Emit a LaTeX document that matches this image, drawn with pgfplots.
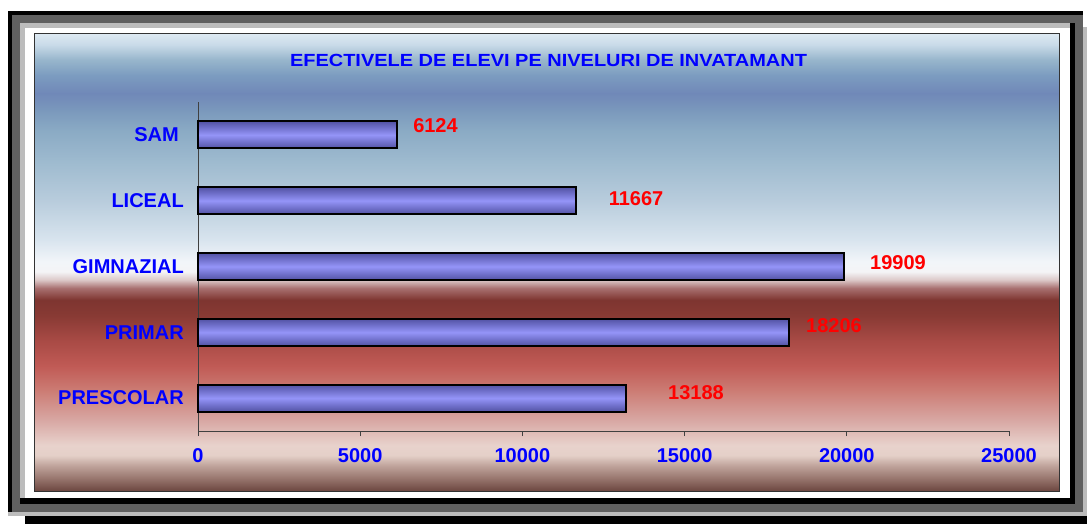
\documentclass[border=0pt]{standalone}
\usepackage{fontspec}
\setmainfont{Liberation Sans}
\usepackage{graphicx}
\usepackage{pgfplots}
\pgfplotsset{compat=1.18}

\definecolor{frLight}{HTML}{BCBCBC}
\definecolor{frGray}{HTML}{606060}
\definecolor{barEdge}{HTML}{5252A4}
\definecolor{barMid}{HTML}{9494F8}
\definecolor{labBlue}{HTML}{0000FF}
\definecolor{labRed}{HTML}{FF0000}

\definecolor{s75}{HTML}{DDE9F2}
\definecolor{s738}{HTML}{C8DAE8}
\definecolor{s722}{HTML}{98B6CC}
\definecolor{s705}{HTML}{7C9CC0}
\definecolor{s685}{HTML}{7088B8}
\definecolor{s667}{HTML}{7A98BC}
\definecolor{s645}{HTML}{8AAAC4}
\definecolor{s607}{HTML}{A0BCD0}
\definecolor{s568}{HTML}{B8CCDC}
\definecolor{s525}{HTML}{D8E4EE}
\definecolor{s501}{HTML}{F2F5F9}
\definecolor{s490}{HTML}{F4F4F6}
\definecolor{s481}{HTML}{DCC8C8}
\definecolor{s472}{HTML}{A87070}
\definecolor{s459}{HTML}{7E3530}
\definecolor{s442}{HTML}{883A34}
\definecolor{s415}{HTML}{A84A45}
\definecolor{s387}{HTML}{C05A55}
\definecolor{s360}{HTML}{CC7C74}
\definecolor{s327}{HTML}{D8A8A4}
\definecolor{s300}{HTML}{E8D2CC}
\definecolor{s289}{HTML}{E4D0C8}
\definecolor{s278}{HTML}{C0A49C}
\definecolor{s264}{HTML}{98766E}
\definecolor{s250}{HTML}{6C4640}

\pgfdeclareverticalshading{bgshade}{100bp}{%
color(0bp)=(s250); color(25bp)=(s250); color(26.4bp)=(s264); color(27.8bp)=(s278);
color(28.9bp)=(s289); color(30bp)=(s300); color(32.7bp)=(s327); color(36bp)=(s360);
color(38.7bp)=(s387); color(41.5bp)=(s415); color(44.2bp)=(s442); color(45.9bp)=(s459);
color(47.2bp)=(s472); color(48.1bp)=(s481); color(49bp)=(s490); color(50.1bp)=(s501);
color(52.5bp)=(s525); color(56.8bp)=(s568); color(60.7bp)=(s607); color(64.5bp)=(s645);
color(66.7bp)=(s667); color(68.5bp)=(s685); color(70.5bp)=(s705); color(72.2bp)=(s722);
color(73.8bp)=(s738); color(75bp)=(s75); color(100bp)=(s75)}

\newcommand{\lblfont}{\fontsize{15}{18}\selectfont\bfseries}

\begin{document}
\begin{tikzpicture}
\begin{scope}[x=0.75pt,y=-0.75pt]
\path[use as bounding box] (0,0) rectangle (1087,524);
% frame
\fill[frLight] (8,27) rectangle (1087,516);
\fill[black] (8,11) rectangle (1083,512);
\fill[frGray] (12,15) rectangle (1083,512);
\fill[black] (20,23) rectangle (1075,504);
\fill[frLight] (20,23) rectangle (1070,498);
\fill[white] (25,28) rectangle (1070,498);
\fill[black] (25,516) rectangle (1087,524);
% panel
\shade[shading=bgshade] (34,34) rectangle (1059,491);
\draw[draw=black!80, line width=0.75pt] (34,34) rectangle (1059,491);
% title
\node[text=labBlue, inner sep=0pt] at (548.5,60) {\resizebox{387.75pt}{9.2pt}{\bfseries EFECTIVELE DE ELEVI PE NIVELURI DE INVATAMANT}};
\end{scope}

\begin{axis}[
  at={(148.5pt,-323.25pt)}, anchor=south west,
  scale only axis, width=608.25pt, height=246.75pt,
  xmin=0, xmax=25000, ymin=-0.5, ymax=4.5,
  axis x line*=bottom, axis y line*=left,
  axis line style={draw=black!75, line width=0.75pt, -},
  xtick={0,5000,10000,15000,20000,25000},
  scaled x ticks=false,
  ytick={0,1,2,3,4},
  yticklabels={PRESCOLAR,PRIMAR,GIMNAZIAL,LICEAL,{SAM\hspace*{3.75pt}}},
  tick align=outside,
  major tick length=3.75pt,
  xtick style={draw=black!75, line width=0.75pt},
  ytick style={draw=none},
  /pgf/number format/1000 sep={},
  /pgf/number format/assume math mode=true,
  xticklabel style={font=\lblfont, text=labBlue, inner sep=0pt, anchor=north, yshift=-9pt},
  yticklabel style={font=\lblfont, text=labBlue, inner sep=0pt, anchor=east, xshift=-6.75pt},
  clip=false,
  barstyle/.style={xbar, bar width=20.25pt, draw=black, line width=1.5pt,
    top color=barEdge, bottom color=barEdge, middle color=barMid},
]
\addplot[barstyle] coordinates {(13188,0)};
\addplot[barstyle] coordinates {(18206,1)};
\addplot[barstyle] coordinates {(19909,2)};
\addplot[barstyle] coordinates {(11667,3)};
\addplot[barstyle] coordinates {(6124,4)};
\addplot[draw=none, mark=none, point meta=explicit symbolic, nodes near coords,
  every node near coord/.append style={anchor=center, font=\lblfont, text=labRed, inner sep=0pt}]
  coordinates {(15352,0.078) [13188] (19605,1.096) [18206] (21578,2.053) [19909]
               (13502,3.026) [11667] (7321,4.135) [6124]};
\end{axis}
\end{tikzpicture}
\end{document}
